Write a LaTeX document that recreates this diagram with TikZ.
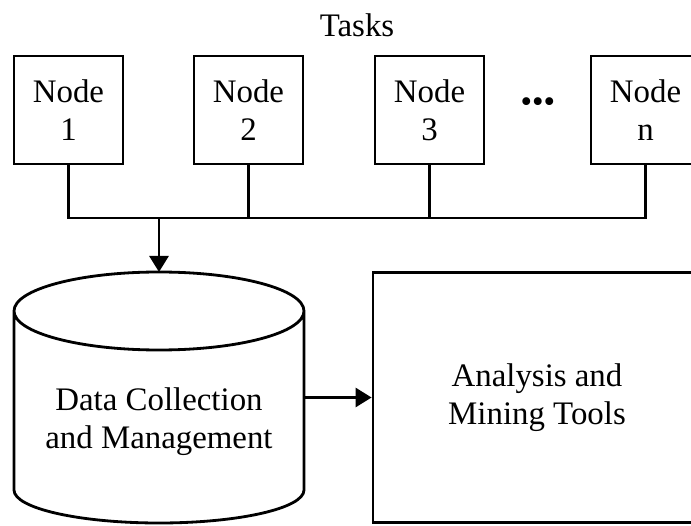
\documentclass[tikz,border=0pt]{standalone}
\usepackage{fontspec}
\setmainfont{Liberation Serif}
\usetikzlibrary{
  arrows.meta,
  positioning
}

\begin{document}
\begin{tikzpicture}[
  taskbox/.style={draw, line width=1.6pt, minimum width=2.18cm, minimum height=2.16cm, align=center, inner sep=0pt},
  link/.style={line width=1.5pt},
  feed/.style={line width=1.6pt, -{Triangle[length=0.32cm, width=0.38cm]}},
  font=\fontsize{18.7}{21.5}\selectfont
]
  \clip (0,0) rectangle (13.82,10.5);

  % ---------- TOP ROW: task nodes ----------
  \node (tasks) at (7.14, 10.0) {Tasks};

  \node[taskbox] (n1) at (1.37, 8.3) {Node\\1};
  \node[taskbox] (n2) at (4.97, 8.3) {Node\\2};
  \node[taskbox] (n3) at (8.59, 8.3) {Node\\3};
  \node (dots) at (10.76, 8.4) {\textbullet\textbullet\textbullet};
  \node[taskbox] (nn) at (12.91, 8.3) {Node\\n};

  % shared bus below the nodes
  \coordinate (bus) at (3.18, 6.14);
  \draw[link] (n1.south) -- (n1.south |- bus) -- (nn.south |- bus) -- (nn.south);
  \draw[link] (n2.south) -- (n2.south |- bus);
  \draw[link] (n3.south) -- (n3.south |- bus);

  % ---------- BOTTOM ROW: storage and tools ----------
  % storage drum (outline drawn round an empty node)
  \node[minimum width=5.8cm, minimum height=5.02cm, inner sep=0pt, outer sep=0pt] (db) at (3.18, 2.55) {};
  \draw[line width=1.6pt]
    ([yshift=-0.78cm]db.north west) -- ([yshift=0.66cm]db.south west)
    arc[start angle=180, end angle=360, x radius=2.9cm, y radius=0.66cm]
    -- ([yshift=-0.78cm]db.north east)
    arc[start angle=0, end angle=360, x radius=2.9cm, y radius=0.78cm];
  \node[align=center] (dbtext) at ([yshift=-0.48cm]db.center) {Data Collection\\and Management};

  \node[draw, line width=1.6pt, minimum width=6.56cm, minimum height=5.0cm, align=center]
        (tools) at (10.74, 2.55) {Analysis and\\Mining Tools};

  \draw[feed] (bus) -- (db.north);
  \draw[feed] (db.east) -- (tools.west);

\end{tikzpicture}
\end{document}
